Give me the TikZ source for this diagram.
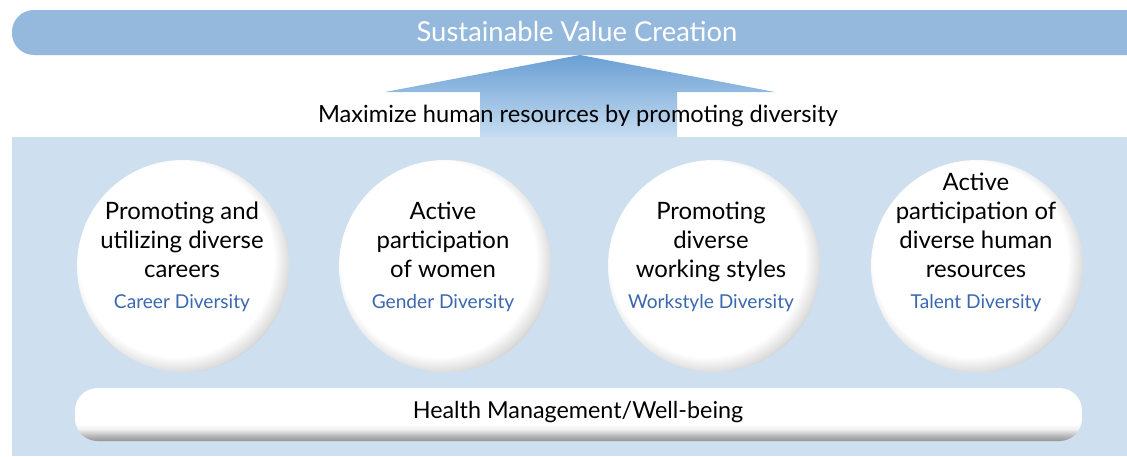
\documentclass[tikz,border=0pt]{standalone}
\usepackage{fontspec}
\setmainfont{Lato}
\usetikzlibrary{positioning, calc, shadings}
\definecolor{topblue}{HTML}{95B8DD}
\definecolor{panelblue}{HTML}{CEDFEF}
\definecolor{arrowtop}{HTML}{6A9FD4}
\definecolor{arrowbot}{HTML}{C6DDF1}
\definecolor{tagblue}{HTML}{3A68B0}
\pgfdeclareradialshading{ballshade}{\pgfpoint{-3bp}{3bp}}{color(0bp)=(white); color(23bp)=(white); color(26.5bp)=(white!86!black); color(29.5bp)=(white!58!black); color(50bp)=(white!55!black)}
\pgfdeclareverticalshading{barshade}{100bp}{color(0bp)=(white!58!black); color(25bp)=(white!58!black); color(30bp)=(white!72!black); color(36bp)=(white!94!black); color(41bp)=(white); color(100bp)=(white)}
\newcommand{\divtag}[1]{{\color{tagblue}\fontsize{13.6}{16}\selectfont #1}}

\begin{document}
\begin{tikzpicture}[
    x=0.025cm, y=-0.025cm,
    ball/.style={circle, shading=ballshade, minimum size=5.3cm, inner sep=0pt},
    pillartext/.style={align=center, font=\fontsize{17}{20.8}\selectfont, inner sep=0pt, anchor=south}
]
    \useasboundingbox (0,0) rectangle (1127,456);

    % panel and top bar
    \fill[panelblue] (12,137) rectangle (1127,456);
    \fill[topblue, rounded corners=15.5pt] (12,10) rectangle (1160,55);
    \node[text=white, font=\fontsize{19.5}{22}\selectfont] (goal) at (577,32) {Sustainable Value Creation};

    % block arrow
    \shade[top color=arrowtop, bottom color=arrowbot]
        (580,55) -- (775,92) -- (677,92) -- (677,137) -- (480,137) -- (480,92) -- (385,92) -- cycle;
    \node[font=\fontsize{16.8}{19}\selectfont] (aim) at (578,116) {Maximize human resources by promoting diversity};

    % the four pillars
    \node[ball] (c1) at (183,266) {};
    \node[ball] (c2) at (445,266) {};
    \node[ball] (c3) at (714,266) {};
    \node[ball] (c4) at (977,266) {};

    \node[pillartext] (t1) at (182,312) {Promoting and\\utilizing diverse\\careers\\[1pt]\divtag{Career Diversity}};
    \node[pillartext] (t2) at (443,312) {Active\\participation\\of women\\[1pt]\divtag{Gender Diversity}};
    \node[pillartext] (t3) at (711,312) {Promoting\\diverse\\working styles\\[1pt]\divtag{Workstyle Diversity}};
    \node[pillartext] (t4) at (976,312) {Active\\participation of\\diverse human\\resources\\[1pt]\divtag{Talent Diversity}};

    % base bar
    \shade[shading=barshade, rounded corners=16pt] (75,388) rectangle (1082,441);
    \node[font=\fontsize{16.6}{19}\selectfont] (health) at (578,412) {Health Management/Well-being};
\end{tikzpicture}
\end{document}
